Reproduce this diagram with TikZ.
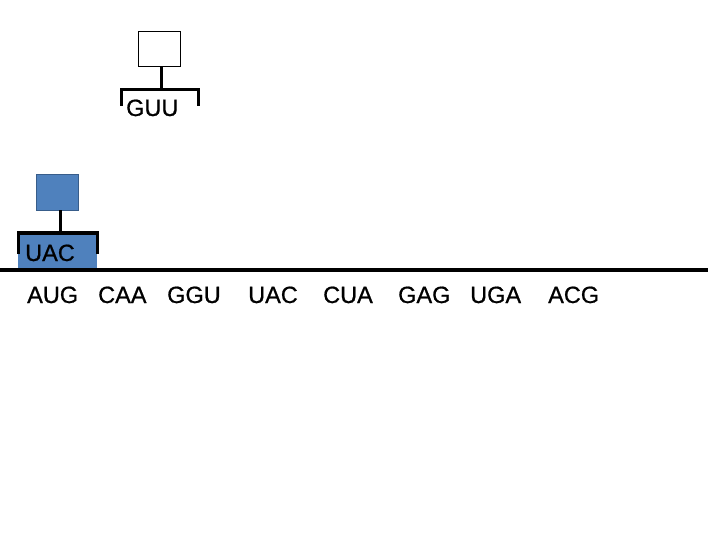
\documentclass[tikz,border=0pt]{standalone}
\usepackage{fontspec}
\setmainfont{Liberation Sans}
\newfontfamily\codonfont{Liberation Sans}[FakeBold=0.8]
\definecolor{trnablue}{HTML}{4F81BD}
\definecolor{trnaedge}{HTML}{385D8A}
\begin{document}
\begin{tikzpicture}[x=1pt,y=-1pt,
  codon/.style={anchor=base west,inner sep=0pt,font=\codonfont\fontsize{23.5}{27}\selectfont},
  bar/.style={line width=3pt},
  stem/.style={line width=3pt}]
\useasboundingbox (0,0) rectangle (720,540);
% top tRNA
\node[draw=black,line width=0.8pt,fill=white,minimum width=42pt,minimum height=35pt,inner sep=0pt] (sq1) at (159,48.5) {};
\coordinate (b1) at (161,90);
\draw[stem] (sq1.south -| b1) -- (b1);
\draw[bar] (121,106) -- (121,90) -- (198,90) -- (198,106);
\node[codon] (guu) at (126,116) {GUU};
% bottom tRNA
\fill[trnablue] (18,233) rectangle (97,270);
\node[draw=trnaedge,line width=0.8pt,fill=trnablue,minimum width=42pt,minimum height=36pt,inner sep=0pt] (sq2) at (57.5,192) {};
\coordinate (b2) at (60,233);
\draw[stem] (sq2.south -| b2) -- (b2);
\draw[bar] (18,254) -- (18,233) -- (97,233) -- (97,254);
\node[codon] (uac1) at (25,261) {UAC};
% mRNA
\coordinate (m0) at (0,270);
\coordinate (m1) at (708,270);
\draw[line width=4pt] (m0) -- (m1);
\node[codon] (c1) at (27,303) {AUG};
\node[codon] (c2) at (98,303) {CAA};
\node[codon] (c3) at (167,303) {GGU};
\node[codon] (c4) at (248,303) {UAC};
\node[codon] (c5) at (323,303) {CUA};
\node[codon] (c6) at (398,303) {GAG};
\node[codon] (c7) at (470,303) {UGA};
\node[codon] (c8) at (548,303) {ACG};
\end{tikzpicture}
\end{document}
